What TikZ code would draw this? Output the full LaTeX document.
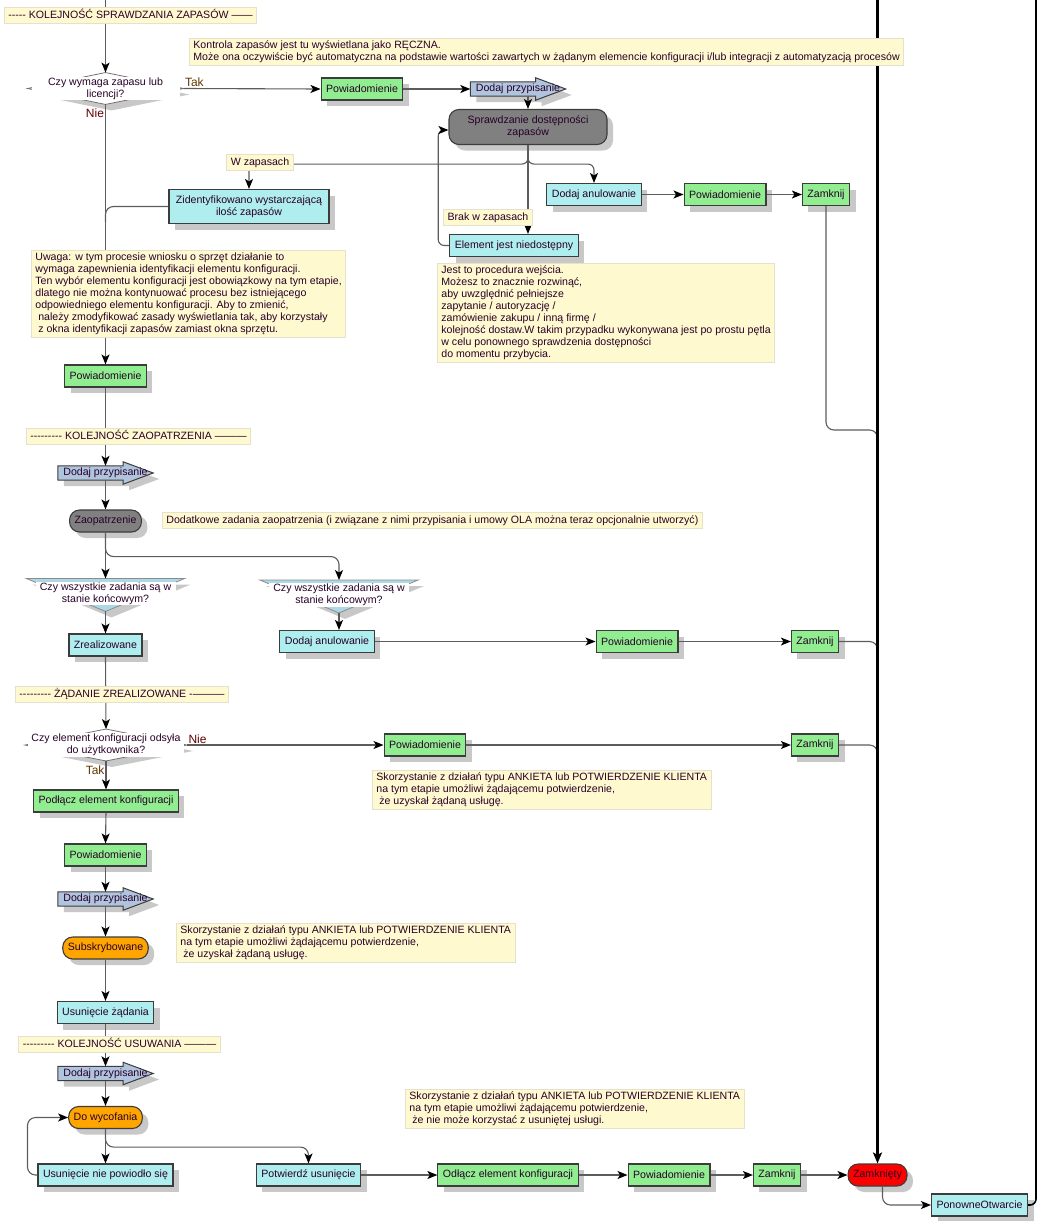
\documentclass[tikz,border=0pt]{standalone}
\usepackage{fontspec}
\setmainfont{Liberation Sans}[Ligatures=TeXOff]
\usetikzlibrary{arrows.meta,shadows,backgrounds,positioning}

\definecolor{notegreen}{RGB}{144,238,144}
\definecolor{taskcyan}{RGB}{175,238,238}
\definecolor{assignblue}{RGB}{176,196,222}
\definecolor{checkgray}{RGB}{128,128,128}
\definecolor{stateorange}{RGB}{255,165,0}
\definecolor{closedred}{RGB}{255,0,0}
\definecolor{funnelblue}{RGB}{173,216,230}
\definecolor{memofill}{RGB}{255,249,208}
\definecolor{memoline}{RGB}{228,226,205}
\definecolor{shadowgray}{RGB}{200,200,200}
\definecolor{boxline}{RGB}{60,60,60}
\definecolor{flowgray}{RGB}{92,92,92}
\definecolor{txt}{RGB}{40,0,40}
\definecolor{yescol}{RGB}{96,56,0}
\definecolor{nocol}{RGB}{96,0,0}

\tikzset{
  flow/.style={draw=flowgray, line width=1.1pt, -{Stealth[length=10pt,width=8pt,inset=2.5pt,color=black]}},
  joinline/.style={draw=flowgray, line width=1.1pt},
  mainline/.style={draw=black, line width=2.4pt, -{Stealth[length=11pt,width=9pt,inset=2.5pt]}},
  backline/.style={draw=black, line width=1.6pt},
  shade6/.style={drop shadow={shadow xshift=6pt,shadow yshift=-6pt,fill=shadowgray,opacity=1}},
  box/.style={draw=boxline, line width=1.1pt, minimum height=22pt, inner xsep=5pt, inner ysep=2pt, text=txt, align=center, shade6},
  notify/.style={box, fill=notegreen},
  task/.style={box, fill=taskcyan},
  stage/.style={box, rounded corners=10pt},
  assign/.style={minimum width=95pt, minimum height=14pt, inner sep=0pt, text=txt},
  assignbg/.style={fill=assignblue, draw=boxline, line width=1pt, shade6},
  decision/.style={fill=white, align=center, inner xsep=3pt, inner ysep=1pt, outer ysep=4pt, text=txt},
  decshape/.style={fill=white, draw=black!55, line width=0.8pt, shade6},
  funnel/.style={fill=funnelblue, draw=black!45, line width=0.8pt, shade6},
  memo/.style={fill=memofill, draw=memoline, line width=0.8pt, inner xsep=4pt, inner ysep=2.5pt, text=txt, align=left},
  stagebar/.style={memo, text height=8.5pt, text depth=2.5pt},
  yeslabel/.style={text=yescol, font=\fontsize{12}{14}\selectfont, inner sep=1pt},
  nolabel/.style={text=nocol, font=\fontsize{12}{14}\selectfont, inner sep=1pt}
}

\newcommand{\assignshape}[1]{%
  \begin{scope}[on background layer]
    \path[assignbg] (#1.north west) -- ([xshift=-30pt]#1.north east)
      -- ([xshift=-30pt,yshift=4pt]#1.north east) -- (#1.east)
      -- ([xshift=-30pt,yshift=-4pt]#1.south east) -- ([xshift=-30pt]#1.south east)
      -- (#1.south west) -- cycle;
  \end{scope}}

\begin{document}
\begin{tikzpicture}[x=1pt,y=-1pt,font=\fontsize{10.6}{12}\selectfont]
    \useasboundingbox (0,0) rectangle (1040,1221);

    % stock check
    \node[decision, minimum width=148pt, outer xsep=4pt] (chk) at (105.5,88.5) {Czy wymaga zapasu lub\\licencji?};
    \node[notify] (pw1) at (362,89) {Powiadomienie};
    \node[assign] (dp1) at (518,89) {Dodaj przypisanie};
    \node[stage, fill=checkgray, minimum width=158pt, minimum height=35pt] (avail) at (528,127) {Sprawdzanie dostępności\\zapasów};
    \node[task, minimum width=160pt, minimum height=34pt] (enough) at (249,206.5) {Zidentyfikowano wystarczającą\\ilość zapasów};
    \node[task] (na) at (514,245.5) {Element jest niedostępny};
    \node[task] (cnl1) at (594,194.5) {Dodaj anulowanie};
    \node[notify] (pw2) at (725,194.5) {Powiadomienie};
    \node[notify] (zk1) at (826,194.5) {Zamknij};
    \node[notify] (pw3) at (105.5,376) {Powiadomienie};

    % provisioning
    \node[assign] (dp2) at (105.5,473) {Dodaj przypisanie};
    \node[stage, fill=checkgray] (prov) at (105.5,521) {Zaopatrzenie};
    \node[decision, minimum width=140pt, outer xsep=9pt, outer ysep=3pt] (allA) at (105.5,593.5) {Czy wszystkie zadania są w\\stanie końcowym?};
    \node[decision, minimum width=140pt, outer xsep=9pt, outer ysep=3pt] (allB) at (339,595) {Czy wszystkie zadania są w\\stanie końcowym?};
    \node[task] (done) at (105.5,645) {Zrealizowane};
    \node[task] (cnl2) at (327,641.5) {Dodaj anulowanie};
    \node[notify] (pw4) at (637,641.5) {Powiadomienie};
    \node[notify] (zk2) at (815,641.5) {Zamknij};

    % fulfilled
    \node[decision, minimum width=156pt, outer xsep=3pt] (user) at (106,745) {Czy element konfiguracji odsyła\\do użytkownika?};
    \node[notify] (pw5) at (425,745) {Powiadomienie};
    \node[notify] (zk3) at (815,745) {Zamknij};
    \node[notify] (attach) at (106,801) {Podłącz element konfiguracji};
    \node[notify] (pw6) at (105.5,855) {Powiadomienie};
    \node[assign] (dp3) at (105.5,899) {Dodaj przypisanie};
    \node[stage, fill=stateorange] (subs) at (105.5,948) {Subskrybowane};
    \node[task] (rem) at (105.5,1012.5) {Usunięcie żądania};

    % removal
    \node[assign] (dp4) at (105.5,1073.5) {Dodaj przypisanie};
    \node[stage, fill=stateorange] (retire) at (105.5,1117.5) {Do wycofania};
    \node[task] (fail) at (105.5,1175) {Usunięcie nie powiodło się};
    \node[task] (conf) at (308.5,1175) {Potwierdź usunięcie};
    \node[notify] (detach) at (508,1175) {Odłącz element konfiguracji};
    \node[notify] (pw7) at (669,1175) {Powiadomienie};
    \node[notify] (zk4) at (777,1175) {Zamknij};
    \node[stage, fill=closedred] (closed) at (877.5,1175) {Zamknięty};
    \node[task] (reopen) at (979.5,1205) {PonowneOtwarcie};

    \assignshape{dp1}
    \assignshape{dp2}
    \assignshape{dp3}
    \assignshape{dp4}
    \begin{scope}[on background layer]
        \path[decshape] (chk.north) -- (chk.east) -- (chk.south) -- (chk.west) -- cycle;
        \path[decshape] (user.north) -- (user.east) -- (user.south) -- (user.west) -- cycle;
        \path[funnel] (allA.north west) -- (allA.north east) -- ([yshift=-3pt]allA.south) -- cycle;
        \path[funnel] (allB.north west) -- (allB.north east) -- ([yshift=-3pt]allB.south) -- cycle;
    \end{scope}

    % connectors
    \coordinate (top) at (105.5,0);
    \coordinate (j0) at (105.5,222);
    \coordinate (m1) at (877.5,446);
    \coordinate (m2) at (877.5,657);
    \coordinate (m3) at (877.5,760);
    \coordinate (closetop) at (877.5,0);
    \coordinate (reopentop) at (1036,0);

    \draw[flow] (top) -- (chk.north);
    \draw[flow] (chk.east) -- node[yeslabel, pos=0, anchor=south west] (tak1) {Tak} (pw1.west);
    \draw[flow] (pw1) -- (dp1.west);
    \draw[flow] (avail.north |- dp1.south) -- (avail.north);
    \draw[flow, rounded corners=6pt] (avail.south) -- ++(0,19) -| (enough.north);
    \draw[flow, rounded corners=6pt] (avail.south) -- ++(0,19) -| (cnl1.north);
    \draw[flow] (avail.south) -- (avail.south |- na.north);
    \draw[flow, rounded corners=6pt] (na.west) -- ++(-11,0) |- ([yshift=-3pt]avail.west);
    \draw[flow] (cnl1) -- (pw2);
    \draw[flow] (pw2) -- (zk1);
    \draw[joinline, rounded corners=8pt] (zk1.south) |- ([yshift=16pt]m1) -- (m1);
    \draw[joinline, rounded corners=8pt] (enough.west) -| (j0);
    \draw[flow] (chk.south) -- node[nolabel, pos=0, anchor=north east, yshift=-3pt] (nie1) {Nie} (pw3.north);

    \draw[flow] (pw3.south) -- (dp2.north);
    \draw[flow] (dp2.south) -- (prov.north);
    \draw[flow] (prov.south) -- (allA.north);
    \draw[flow, rounded corners=8pt] (prov.south) -- ++(0,24) -| (allB.north);
    \draw[flow] ([yshift=-3pt]allA.south) -- (done.north);
    \draw[flow] ([yshift=-3pt]allB.south) -- (allB.south |- cnl2.north);
    \draw[flow] (cnl2) -- (pw4);
    \draw[flow] (pw4) -- (zk2);
    \draw[joinline, rounded corners=8pt] (zk2.east) -| (m2);

    \draw[flow] (done.south) -- (user.north);
    \draw[flow] (user.east) -- node[nolabel, pos=0, anchor=south west] (nie2) {Nie} (pw5.west);
    \draw[flow] (pw5) -- (zk3);
    \draw[joinline, rounded corners=8pt] (zk3.east) -| (m3);
    \draw[flow] (user.south) -- node[yeslabel, pos=0, anchor=north east, yshift=-3pt] (tak2) {Tak} (attach.north);
    \draw[flow] (attach.south) -- (pw6.north);
    \draw[flow] (pw6.south) -- (dp3.north);
    \draw[flow] (dp3.south) -- (subs.north);
    \draw[flow] (subs.south) -- (rem.north);
    \draw[flow] (rem.south) -- (dp4.north);
    \draw[flow] (dp4.south) -- (retire.north);
    \draw[flow] (retire.south) -- (fail.north);
    \draw[flow, rounded corners=8pt] (retire.south) -- ++(0,18) -| (conf.north);
    \draw[flow, rounded corners=8pt] (fail.west) -- ++(-10,0) |- (retire.west);
    \draw[flow] (conf) -- (detach);
    \draw[flow] (detach) -- (pw7);
    \draw[flow] (pw7) -- (zk4);
    \draw[flow] (zk4) -- (closed);
    \draw[mainline] (closetop) -- (closed.north);
    \draw[flow, rounded corners=8pt] ([xshift=5pt]closed.south) |- (reopen.west);
    \draw[backline, rounded corners=6pt] (reopen.east) -| (reopentop);

    % notes
    \node[stagebar] (n1) at (130.5,15.5) {----- KOLEJNOŚĆ SPRAWDZANIA ZAPASÓW ——};
    \node[memo, anchor=north west] (n2) at (189,38) {Kontrola zapasów jest tu wyświetlana jako RĘCZNA.\\Może ona oczywiście być automatyczna na podstawie wartości zawartych w żądanym elemencie konfiguracji i/lub integracji z automatyzacją procesów};
    \node[stagebar] (wz) at (260,162) {W zapasach};
    \node[stagebar] (bk) at (488,217) {Brak w zapasach};
    \node[memo, anchor=north west] (n3) at (31,250) {Uwaga: w tym procesie wniosku o sprzęt działanie to\\wymaga zapewnienia identyfikacji elementu konfiguracji.\\Ten wybór elementu konfiguracji jest obowiązkowy na tym etapie,\\dlatego nie można kontynuować procesu bez istniejącego\\odpowiedniego elementu konfiguracji. Aby to zmienić,\\\ należy zmodyfikować zasady wyświetlania tak, aby korzystały\\\ z okna identyfikacji zapasów zamiast okna sprzętu.};
    \node[memo, anchor=north west] (n4) at (437,263) {Jest to procedura wejścia.\\Możesz to znacznie rozwinąć,\\aby uwzględnić pełniejsze\\zapytanie / autoryzację /\\zamówienie zakupu / inną firmę /\\kolejność dostaw.W takim przypadku wykonywana jest po prostu pętla\\w celu ponownego sprawdzenia dostępności\\do momentu przybycia.};
    \node[stagebar] (n5) at (138.5,436.5) {--------- KOLEJNOŚĆ ZAOPATRZENIA ———};
    \node[stagebar, anchor=north west] (n6) at (162,512) {Dodatkowe zadania zaopatrzenia (i związane z nimi przypisania i umowy OLA można teraz opcjonalnie utworzyć)};
    \node[stagebar] (n7) at (122,694) {--------- ŻĄDANIE ZREALIZOWANE -———};
    \node[memo, anchor=north west] (n8) at (372,770) {Skorzystanie z działań typu ANKIETA lub POTWIERDZENIE KLIENTA\\na tym etapie umożliwi żądającemu potwierdzenie,\\\ że uzyskał żądaną usługę.};
    \node[memo, anchor=north west] (n9) at (176,923) {Skorzystanie z działań typu ANKIETA lub POTWIERDZENIE KLIENTA\\na tym etapie umożliwi żądającemu potwierdzenie,\\\ że uzyskał żądaną usługę.};
    \node[stagebar] (n10) at (119.5,1044.5) {--------- KOLEJNOŚĆ USUWANIA ———};
    \node[memo, anchor=north west] (n11) at (405,1089) {Skorzystanie z działań typu ANKIETA lub POTWIERDZENIE KLIENTA\\na tym etapie umożliwi żądającemu potwierdzenie,\\\ że nie może korzystać z usuniętej usługi.};

\end{tikzpicture}
\end{document}
